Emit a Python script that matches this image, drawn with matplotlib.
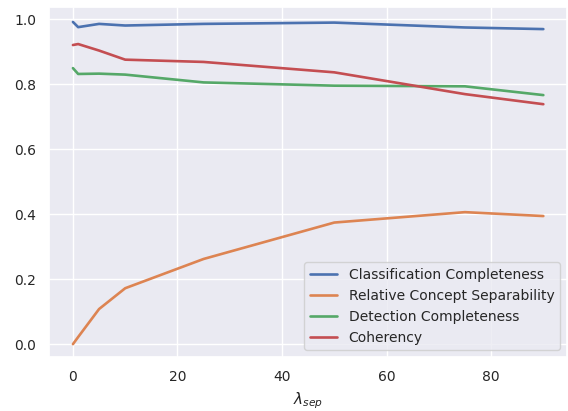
import matplotlib
matplotlib.use('Agg')
import matplotlib.pyplot as plt
import seaborn as sns

sns.set_theme(style='darkgrid', font_scale=0.91)

lambdas = [0, 1, 5, 10, 25, 50, 75, 90]
classification = [0.991, 0.975, 0.985, 0.980, 0.985, 0.989, 0.974, 0.969]
separability = [0.0, 0.022, 0.108, 0.172, 0.262, 0.374, 0.406, 0.394]
detection = [0.849, 0.831, 0.832, 0.829, 0.805, 0.795, 0.793, 0.766]
coherency = [0.920, 0.923, 0.903, 0.875, 0.868, 0.836, 0.769, 0.738]

fig, ax = plt.subplots(figsize=(5.68, 4.11), dpi=100)
ax.plot(lambdas, classification, label='Classification Completeness', lw=1.9)
ax.plot(lambdas, separability, label='Relative Concept Separability', lw=1.9)
ax.plot(lambdas, detection, label='Detection Completeness', lw=1.9)
ax.plot(lambdas, coherency, label='Coherency', lw=1.9)

ax.set_ylim(-0.04, 1.037)
ax.set_xlabel(r'$\lambda_{sep}$')
ax.legend(loc='lower right')
fig.subplots_adjust(left=0.087, right=0.998, top=0.983, bottom=0.131)
fig.savefig('out.png')
